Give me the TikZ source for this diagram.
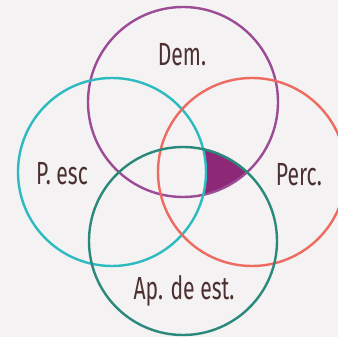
\documentclass[tikz,border=0pt]{standalone}
\usepackage{fontspec}
\setmainfont{Fira Sans}[FakeStretch=0.66]
\definecolor{bgcol}{HTML}{F4F2F2}
\definecolor{demcol}{HTML}{9C4B97}
\definecolor{esccol}{HTML}{2DBBC1}
\definecolor{perccol}{HTML}{EE6B62}
\definecolor{estcol}{HTML}{2A897B}
\definecolor{shadecol}{HTML}{8C2875}
\definecolor{txtcol}{HTML}{4B3031}
\begin{document}
\begin{tikzpicture}[x=1pt, y=1pt,
  ring/.style={line width=2.4pt},
  lbl/.style={font=\fontsize{32}{34}\selectfont, text=txtcol, anchor=base, inner sep=0pt}]
  \useasboundingbox (0,0) rectangle (338,337);
  \fill[bgcol] (0,0) rectangle (338,337);
  \coordinate (dem) at (183,235);
  \coordinate (esc) at (112,165);
  \coordinate (perc) at (252,165);
  \coordinate (est) at (183,96);
  % shaded part
  \begin{scope}
    \clip (dem) circle (95);
    \clip (est) circle (95);
    \fill[shadecol, even odd rule] (0,0) rectangle (338,337) (esc) circle (94);
  \end{scope}
  \draw[ring, demcol] (dem) circle (95);
  \draw[ring, esccol] (esc) circle (94);
  \draw[ring, perccol] (perc) circle (94);
  \draw[ring, estcol] (est) circle (94);
  \node[lbl] (demlbl) at (182,271) {Dem.};
  \node[lbl] (esclbl) at (62,152) {P. esc};
  \node[lbl] (perclbl) at (299,151) {Perc.};
  \node[lbl] (estlbl) at (184,37) {Ap. de est.};
\end{tikzpicture}
\end{document}
